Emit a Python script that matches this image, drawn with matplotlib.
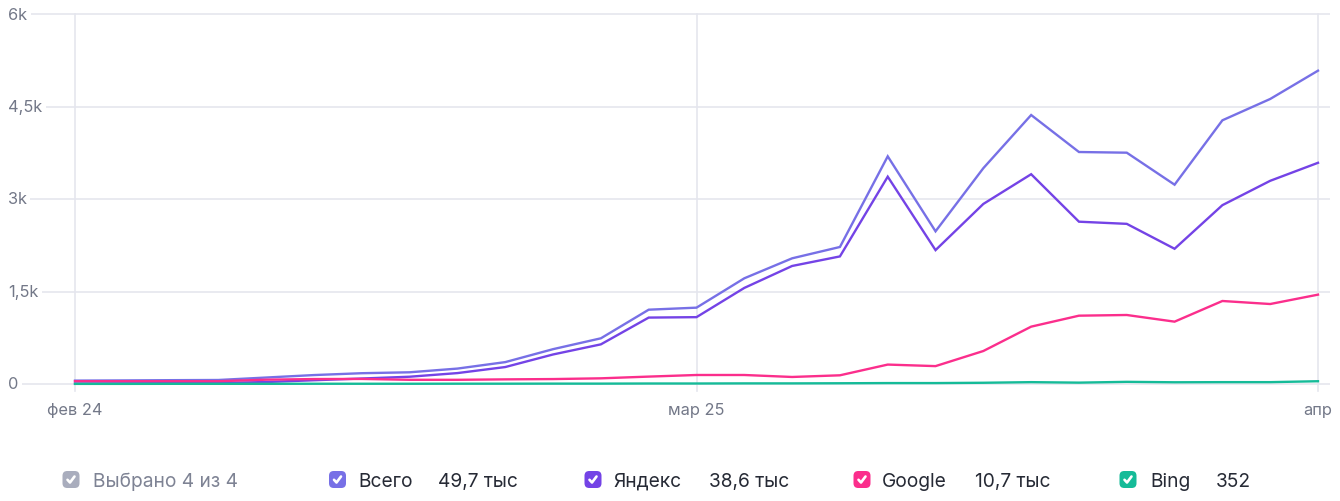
import matplotlib
matplotlib.use("Agg")
import matplotlib.pyplot as plt
from matplotlib.patches import FancyBboxPatch
from matplotlib.lines import Line2D

plt.rcParams['font.family'] = ['Inter', 'DejaVu Sans']

# ---- data (monthly, Feb 2024 .. Apr 2026) ----
months = ["фев 24", "мар 24", "апр 24", "май 24", "июн 24", "июл 24", "авг 24", "сен 24",
          "окт 24", "ноя 24", "дек 24", "янв 25", "фев 25", "мар 25", "апр 25", "май 25",
          "июн 25", "июл 25", "авг 25", "сен 25", "окт 25", "ноя 25", "дек 25", "янв 26",
          "фев 26", "мар 26", "апр"]
total = [55, 58, 62, 65, 105, 145, 175, 190, 250, 355, 565, 741, 1205, 1238, 1714, 2038,
         2222, 3692, 2476, 3500, 4362, 3762, 3751, 3232, 4276, 4622, 5081]
yandex = [8, 11, 14, 17, 32, 61, 89, 118, 177, 275, 479, 643, 1077, 1084, 1558, 1914,
          2069, 3362, 2171, 2920, 3402, 2632, 2597, 2193, 2900, 3295, 3587]
google = [45, 45, 45, 45, 70, 80, 82, 68, 68, 75, 80, 92, 120, 146, 146, 114,
          141, 315, 290, 535, 930, 1108, 1119, 1011, 1346, 1297, 1449]
bing = [2, 2, 3, 3, 3, 4, 4, 4, 5, 5, 6, 6, 8, 8, 10, 10, 12, 15, 15, 20, 30, 22, 35, 28, 30, 30, 45]

shown_ticks = [0, 13, 26]
y_ticks = [0, 1500, 3000, 4500, 6000]
y_tick_labels = ["0", "1,5k", "3k", "4,5k", "6k"]

series_names = ["Всего", "Яндекс", "Google", "Bing"]
series_totals = ["49,7 тыс", "38,6 тыс", "10,7 тыс", "352"]
colors = ["#7770e6", "#7443e6", "#fb2e8c", "#15bb98"]
summary_label = "Выбрано 4 из 4"

# ---- figure ----
W, H = 1340, 502
fig = plt.figure(figsize=(W / 100, H / 100), dpi=100)
fig.patch.set_facecolor("white")

def fx(px):
    return px / W

def fy(py):
    return 1 - py / H

ax = fig.add_axes([0, fy(385), 1, (385 - 15) / H])
xs = list(range(len(months)))
scale = (1318 - 75) / (len(months) - 1)
xmin = -75 / scale
ax.set_xlim(xmin, xmin + W / scale)
ax.set_ylim(0, 6000)
ax.axis("off")
upp = 6000 / 370  # data units per pixel

grid_c = "#e5e6ee"
tick_c = "#737888"
for yv, lab in zip(y_ticks, y_tick_labels):
    ax.plot([xmin + 8 / scale, xmin + 1330 / scale], [yv, yv], color=grid_c, lw=1.2,
            zorder=1, clip_on=False, solid_capstyle="butt")
    ax.text(xmin + 8 / scale, yv, lab, ha="left", va="center", fontsize=11.8, color=tick_c,
            zorder=6, bbox=dict(facecolor="white", edgecolor="none", pad=2.5))

for i in shown_ticks:
    ax.plot([i, i], [-7 * upp, 6000], color=grid_c, lw=1.2, zorder=1, clip_on=False)
    ax.text(i, -26 * upp, months[i], ha="center", va="center", fontsize=11.8, color=tick_c)

for vals, c, z in zip([total, yandex, google, bing], colors, [2, 3, 4, 5]):
    ax.plot(xs, vals, color=c, lw=1.7, zorder=z, clip_on=False, solid_joinstyle="miter")

# ---- legend ----
ly = 480.5

def checkbox(x0, color):
    s = 17
    box = FancyBboxPatch((fx(x0), fy(ly + s / 2)), fx(s), s / H,
                         boxstyle="round,pad=0,rounding_size=0.0035",
                         transform=fig.transFigure, facecolor=color, edgecolor="none",
                         mutation_aspect=W / H)
    fig.add_artist(box)
    chk = Line2D([fx(x0 + 5), fx(x0 + 7.5), fx(x0 + 12)],
                 [fy(ly + 0.3), fy(ly + 3), fy(ly - 3)],
                 transform=fig.transFigure, color="white", lw=1.9,
                 solid_capstyle="round", solid_joinstyle="round")
    fig.add_artist(chk)

checkbox(62.5, "#a9adbd")
fig.text(fx(93), fy(ly + 1.5), summary_label, ha="left", va="center", fontsize=13.8, color="#7e8394")

box_x = [329, 584.5, 853.5, 1119.5]
name_x = [358, 613, 882, 1150]
val_x = [438, 709, 975, 1216]
for bx, nx, vx, n, v, c in zip(box_x, name_x, val_x, series_names, series_totals, colors):
    checkbox(bx, c)
    fig.text(fx(nx), fy(ly + 1.5), n, ha="left", va="center", fontsize=13.8, color="#262a35")
    fig.text(fx(vx), fy(ly + 1.5), v, ha="left", va="center", fontsize=13.8, color="#262a35")

fig.savefig("out.png", dpi=100, facecolor="white")
